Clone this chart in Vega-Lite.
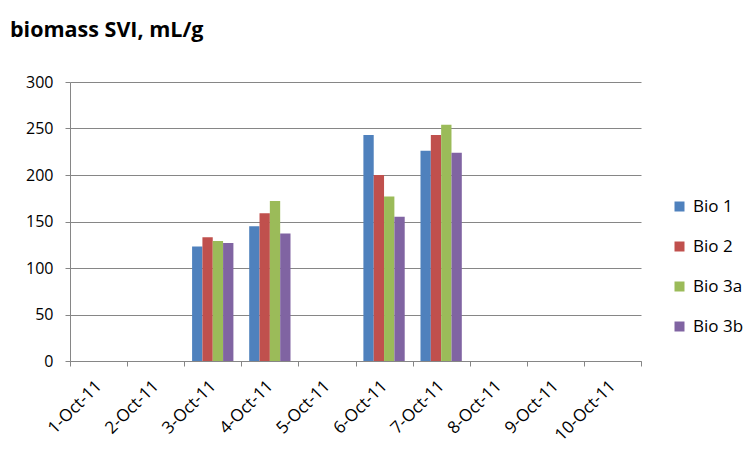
{
  "$schema": "https://vega.github.io/schema/vega-lite/v6.json",
  "autosize": "none",
  "width": 571,
  "height": 279,
  "padding": {"left": 70, "top": 82, "right": 115, "bottom": 102},
  "background": "white",
  "title": {
    "text": "biomass SVI, mL/g",
    "anchor": "start",
    "frame": "group",
    "dx": -60,
    "offset": 33,
    "font": "Open Sans",
    "fontSize": 21.5,
    "fontWeight": "bold",
    "color": "#000000"
  },
  "data": {
    "values": [
      {"date": "3-Oct-11", "series": "Bio 1", "svi": 123},
      {"date": "3-Oct-11", "series": "Bio 2", "svi": 133},
      {"date": "3-Oct-11", "series": "Bio 3a", "svi": 129},
      {"date": "3-Oct-11", "series": "Bio 3b", "svi": 127},
      {"date": "4-Oct-11", "series": "Bio 1", "svi": 145},
      {"date": "4-Oct-11", "series": "Bio 2", "svi": 159},
      {"date": "4-Oct-11", "series": "Bio 3a", "svi": 172},
      {"date": "4-Oct-11", "series": "Bio 3b", "svi": 137},
      {"date": "6-Oct-11", "series": "Bio 1", "svi": 243},
      {"date": "6-Oct-11", "series": "Bio 2", "svi": 200},
      {"date": "6-Oct-11", "series": "Bio 3a", "svi": 177},
      {"date": "6-Oct-11", "series": "Bio 3b", "svi": 155},
      {"date": "7-Oct-11", "series": "Bio 1", "svi": 226},
      {"date": "7-Oct-11", "series": "Bio 2", "svi": 243},
      {"date": "7-Oct-11", "series": "Bio 3a", "svi": 254},
      {"date": "7-Oct-11", "series": "Bio 3b", "svi": 224}
    ]
  },
  "mark": {"type": "bar"},
  "encoding": {
    "x": {
      "field": "date",
      "type": "nominal",
      "scale": {
        "domain": ["1-Oct-11", "2-Oct-11", "3-Oct-11", "4-Oct-11", "5-Oct-11", "6-Oct-11", "7-Oct-11", "8-Oct-11", "9-Oct-11", "10-Oct-11"],
        "paddingInner": 0,
        "paddingOuter": 0
      },
      "axis": {
        "title": null,
        "tickBand": "extent",
        "labelAngle": -45,
        "labelAlign": "right",
        "labelBaseline": "middle",
        "labelPadding": 17,
        "labelFont": "Open Sans",
        "labelFontSize": 17,
        "labelColor": "#000000",
        "domainColor": "#868686",
        "tickColor": "#868686",
        "tickSize": 5,
        "grid": false
      }
    },
    "xOffset": {
      "field": "series",
      "type": "nominal",
      "scale": {"paddingInner": 0, "paddingOuter": 0.764}
    },
    "y": {
      "field": "svi",
      "type": "quantitative",
      "scale": {"domain": [0, 300], "nice": false},
      "axis": {
        "title": null,
        "values": [0, 50, 100, 150, 200, 250, 300],
        "labelFont": "Open Sans",
        "labelFontSize": 16,
        "labelColor": "#000000",
        "labelPadding": 12,
        "domainColor": "#868686",
        "tickColor": "#868686",
        "tickSize": 5,
        "gridColor": "#868686",
        "gridOpacity": 1
      }
    },
    "color": {
      "field": "series",
      "type": "nominal",
      "scale": {
        "domain": ["Bio 1", "Bio 2", "Bio 3a", "Bio 3b"],
        "range": ["#4F81BD", "#C0504D", "#9BBB59", "#8064A2"]
      },
      "legend": {
        "title": null,
        "orient": "none",
        "legendX": 601,
        "legendY": 116,
        "padding": 0,
        "symbolType": "square",
        "symbolSize": 100,
        "symbolStrokeWidth": 0,
        "rowPadding": 22,
        "labelFont": "Open Sans",
        "labelFontSize": 17,
        "labelColor": "#000000",
        "labelOffset": 5
      }
    }
  },
  "config": {
    "view": {"stroke": null}
  }
}
